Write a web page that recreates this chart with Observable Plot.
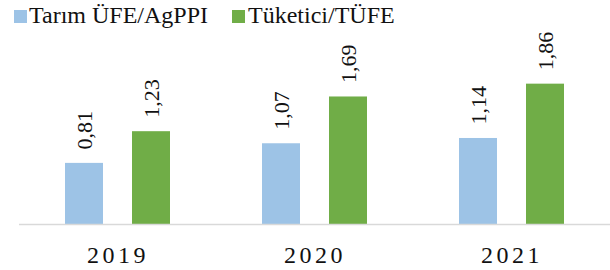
<!DOCTYPE html>
<html>
<head>
<meta charset="utf-8">
<script src="https://cdn.jsdelivr.net/npm/d3@7"></script>
<script src="https://cdn.jsdelivr.net/npm/@observablehq/plot@0.6"></script>
<style>
  body { margin: 0; background: #fff; font-family: "Liberation Serif", serif; }
  #wrap { width: 610px; height: 270px; position: relative; overflow: hidden; }
  #legend { position: relative; height: 30px; width: 610px; }
  .sw { position: absolute; top: 10px; width: 13px; height: 13px; }
  .lt { position: absolute; top: 3px; font-family: "Liberation Serif", serif; font-size: 24px; line-height: 24px; color: #111; white-space: nowrap; }
  g[aria-label="fx-axis tick label"] text { letter-spacing: 3.5px; }
</style>
</head>
<body>
<div id="wrap">
  <div id="legend"></div>
  <div id="chart"></div>
</div>
<script>
const years = ["2019", "2020", "2021"];
const series = ["Tarım ÜFE/AgPPI", "Tüketici/TÜFE"];
const agppi = [0.81, 1.07, 1.14];
const tufe = [1.23, 1.69, 1.86];
const colors = ["#9DC3E6", "#70AD47"];

const data = [];
years.forEach((y, i) => {
  data.push({year: y, series: series[0], value: agppi[i]});
  data.push({year: y, series: series[1], value: tufe[i]});
});

const fmt = d => d.toFixed(2).replace(".", ",");

// legend
const legend = document.getElementById("legend");
const legendPos = [{sw: 14, tx: 29}, {sw: 232, tx: 248}];
series.forEach((s, i) => {
  const sw = document.createElement("span");
  sw.className = "sw";
  sw.style.left = legendPos[i].sw + "px";
  sw.style.background = colors[i];
  legend.appendChild(sw);
  const t = document.createElement("span");
  t.className = "lt";
  t.style.left = legendPos[i].tx + "px";
  t.textContent = s;
  legend.appendChild(t);
});

const chart = Plot.plot({
  width: 610,
  height: 240,
  marginLeft: 19,
  marginRight: 0,
  marginTop: 28,
  marginBottom: 46,
  style: {fontFamily: "Liberation Serif, serif", background: "#fff", color: "#111"},
  fx: {domain: years, padding: 0, axis: null, label: null},
  x: {domain: series, paddingInner: 0.426, paddingOuter: 0.662, axis: null},
  y: {domain: [0, 2.2], axis: null},
  color: {domain: series, range: colors},
  marks: [
    Plot.barY(data, {fx: "year", x: "series", y: "value", fill: "series"}),
    Plot.ruleY([0], {stroke: "#d9d9d9", strokeWidth: 1.5}),
    Plot.text(data, {
      fx: "year", x: "series", y: "value",
      text: d => fmt(d.value),
      rotate: -90, textAnchor: "start", lineAnchor: "middle", dy: -14,
      fontSize: 22, fontFamily: "Liberation Serif, serif", fill: "#111"
    }),
    Plot.axisFx({anchor: "bottom", label: null, tickSize: 0, tickPadding: 21, fontSize: 24, fontFamily: "Liberation Serif, serif", fill: "#111"})
  ]
});
document.getElementById("chart").appendChild(chart);
</script>
</body>
</html>
